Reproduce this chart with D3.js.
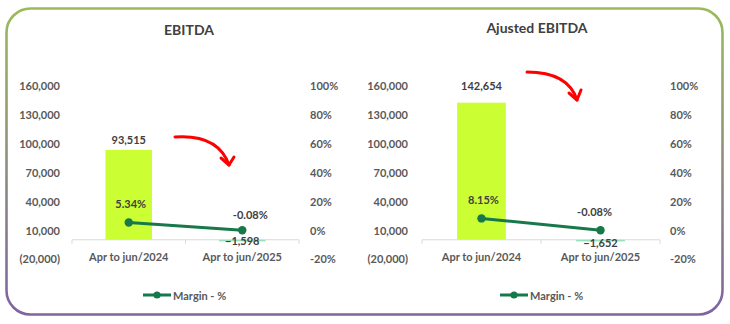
<!DOCTYPE html>
<html><head><meta charset="utf-8">
<script src="https://cdn.jsdelivr.net/npm/d3@7"></script>
<style>html,body{margin:0;padding:0;background:#fff;}svg{display:block;}</style>
</head><body>
<script>
const categories = ["Apr to jun/2024", "Apr to jun/2025"];
const ebitdaValues = [93515, -1598];
const ebitdaMargin = [5.34, -0.08];
const adjustedValues = [142654, -1652];
const adjustedMargin = [8.15, -0.08];
const leftTicks = [-20000, 10000, 40000, 70000, 100000, 130000, 160000];
const rightTicks = [-20, 0, 20, 40, 60, 80, 100];
const titles = ["EBITDA", "Ajusted EBITDA"];
const legendLabel = "Margin - %";

const W = 730, H = 324;
const FONT = "Lato, 'Open Sans', sans-serif";
const svg = d3.select("body").append("svg").attr("width", W).attr("height", H);

const defs = svg.append("defs");
const grad = defs.append("linearGradient").attr("id", "bord").attr("x1", 0).attr("y1", 0).attr("x2", 0).attr("y2", 1);
grad.append("stop").attr("offset", "0%").attr("stop-color", "#9bbb59");
grad.append("stop").attr("offset", "100%").attr("stop-color", "#8064a2");

svg.append("rect").attr("x", 6.5).attr("y", 8.5).attr("width", 716).attr("height", 306)
  .attr("rx", 24).attr("ry", 24).attr("fill", "#fff")
  .attr("stroke", "url(#bord)").attr("stroke-width", 2.6);

const fmt = v => v < 0 ? "(" + d3.format(",")(-v) + ")" : d3.format(",")(v);

function drawChart(cfg) {
  const g = svg.append("g");
  const yL = d3.scaleLinear().domain([-20000, 160000]).range([259, 86]);
  const yR = d3.scaleLinear().domain([-20, 100]).range([259, 86]);
  const x = d3.scaleBand().domain(categories).range(cfg.xr).paddingInner(0.59).paddingOuter(0.295);

  g.append("text").attr("x", cfg.titleX).attr("y", cfg.titleY).attr("text-anchor", "middle")
    .attr("dominant-baseline", "central").attr("font-family", FONT).attr("font-weight", 700)
    .attr("font-size", 14).attr("fill", "#404040").text(cfg.title);

  const la = g.append("g").attr("transform", `translate(${cfg.leftAxisX},0)`)
    .call(d3.axisLeft(yL).tickValues(leftTicks).tickFormat(fmt).tickSize(0).tickPadding(0));
  la.select(".domain").remove();
  la.selectAll("text").attr("font-family", FONT).attr("font-weight", 700).attr("font-size", 11)
    .attr("fill", "#595959").attr("dy", "0.35em");

  const ra = g.append("g").attr("transform", `translate(${cfg.rightAxisX},0)`)
    .call(d3.axisRight(yR).tickValues(rightTicks).tickFormat(d => d + "%").tickSize(0).tickPadding(0));
  ra.select(".domain").remove();
  ra.selectAll("text").attr("font-family", FONT).attr("font-weight", 700).attr("font-size", 11)
    .attr("fill", "#595959").attr("dy", "0.35em");

  g.selectAll("rect.bar").data(cfg.values).join("rect").attr("class", "bar")
    .attr("x", (d, i) => x(categories[i]))
    .attr("width", x.bandwidth())
    .attr("y", d => Math.min(yL(d), yL(0)))
    .attr("height", d => Math.max(1.5, Math.abs(yL(d) - yL(0))))
    .attr("fill", (d, i) => i === 0 ? "#ccff33" : "#7fe3ad");

  const x0 = cfg.xr[0], x1 = cfg.xr[1], y0 = yL(0);
  g.append("line").attr("x1", x0).attr("x2", x1).attr("y1", y0).attr("y2", y0)
    .attr("stroke", "#d9d9d9").attr("stroke-width", 1);
  [x0, (x0 + x1) / 2, x1].forEach(t => {
    g.append("line").attr("x1", t).attr("x2", t).attr("y1", y0).attr("y2", y0 + 4)
      .attr("stroke", "#d9d9d9").attr("stroke-width", 1);
  });
  g.selectAll("text.cat").data(categories).join("text").attr("class", "cat")
    .attr("x", d => x(d) + x.bandwidth() / 2).attr("y", 256)
    .attr("text-anchor", "middle").attr("dominant-baseline", "central")
    .attr("font-family", FONT).attr("font-weight", 700).attr("font-size", 11)
    .attr("fill", "#595959").text(d => d);

  g.selectAll("text.val").data(cfg.values).join("text").attr("class", "val")
    .attr("x", (d, i) => x(categories[i]) + x.bandwidth() / 2)
    .attr("y", (d, i) => i === 0 ? yL(d) - cfg.valOff : yL(0) + cfg.negOff)
    .attr("text-anchor", "middle").attr("dominant-baseline", "central")
    .attr("font-family", FONT).attr("font-weight", 700).attr("font-size", 11)
    .attr("fill", "#404040").text(d => d3.format(",")(d));

  const pts = cfg.margin.map((m, i) => [x(categories[i]) + x.bandwidth() / 2, yR(m)]);
  g.append("path").attr("d", d3.line()(pts)).attr("fill", "none")
    .attr("stroke", "#17784a").attr("stroke-width", 3).attr("stroke-linecap", "round");
  g.selectAll("circle.pt").data(pts).join("circle").attr("class", "pt")
    .attr("cx", d => d[0]).attr("cy", d => d[1]).attr("r", 4.2).attr("fill", "#17784a");
  g.selectAll("text.mg").data(cfg.margin).join("text").attr("class", "mg")
    .attr("x", (d, i) => pts[i][0] + cfg.mgDx[i]).attr("y", (d, i) => pts[i][1] - cfg.mgDy[i])
    .attr("text-anchor", "middle").attr("dominant-baseline", "central")
    .attr("font-family", FONT).attr("font-weight", 700).attr("font-size", 11)
    .attr("fill", "#404040").text(d => d.toFixed(2) + "%");

  const a = cfg.arrow;
  g.append("path").attr("d", `M${a[0]},${a[1]} Q${a[2]},${a[3]} ${a[4]},${a[5]}`)
    .attr("fill", "none").attr("stroke", "#ff0000").attr("stroke-width", 3).attr("stroke-linecap", "round");
  g.append("path").attr("d", `M${a[6]},${a[7]} L${a[4]},${a[5]} L${a[8]},${a[9]}`)
    .attr("fill", "none").attr("stroke", "#ff0000").attr("stroke-width", 3)
    .attr("stroke-linecap", "round").attr("stroke-linejoin", "round");

  const lx = cfg.legendX, ly = 295;
  g.append("line").attr("x1", lx).attr("x2", lx + 28).attr("y1", ly).attr("y2", ly)
    .attr("stroke", "#17784a").attr("stroke-width", 3);
  g.append("circle").attr("cx", lx + 14).attr("cy", ly).attr("r", 3.6).attr("fill", "#17784a");
  g.append("text").attr("x", lx + 30).attr("y", ly).attr("dominant-baseline", "central")
    .attr("font-family", FONT).attr("font-weight", 700).attr("font-size", 11)
    .attr("fill", "#595959").text(legendLabel);
}

drawChart({
  title: titles[0], titleX: 189, titleY: 29,
  xr: [72, 299], leftAxisX: 60, rightAxisX: 310,
  values: ebitdaValues, margin: ebitdaMargin,
  valOff: 10, negOff: 1, mgDx: [2, 8], mgDy: [19, 16],
  arrow: [175, 137, 218, 134, 229, 165, 221, 158, 234, 157],
  legendX: 143
});
drawChart({
  title: titles[1], titleX: 537, titleY: 27,
  xr: [422, 660], leftAxisX: 408, rightAxisX: 670,
  values: adjustedValues, margin: adjustedMargin,
  valOff: 17, negOff: 3, mgDx: [2, -6], mgDy: [19, 19],
  arrow: [527, 72, 568, 72, 577, 100, 569, 93, 581, 90],
  legendX: 500
});
</script>
</body></html>
